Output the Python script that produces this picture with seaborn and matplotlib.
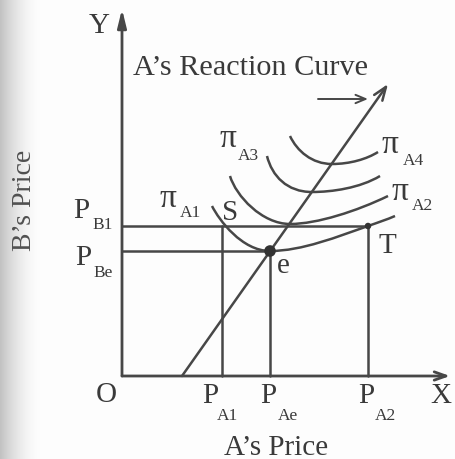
import numpy as np
import pandas as pd
import matplotlib
matplotlib.use("Agg")
import matplotlib.pyplot as plt
from matplotlib.path import Path
from matplotlib.patches import PathPatch
import seaborn as sns

# Key prices on the two axes
P_A1, P_Ae, P_A2 = 100, 148, 246
P_B1, P_Be = 150, 125

# A's reaction curve (straight line, with arrow at the top end)
reaction_x = [60, 266]
reaction_y = [0, 292]

# Iso-profit curves of firm A as cubic Bezier vertices
# (anchor, control, control, anchor, control, control, anchor ...)
pi_a1_x = [90, 97, 120, 148, 180, 216, 246, 256, 265, 273]
pi_a1_y = [170, 156, 125, 125, 125, 139.5, 150, 153.5, 156.5, 160]
pi_a2_x = [108, 114, 140, 168, 195, 235, 266]
pi_a2_y = [200, 180, 152, 152, 152, 165, 180]
pi_a3_x = [145, 150, 165, 190, 210, 238, 258]
pi_a3_y = [220, 200, 184, 184, 184, 188, 200]
pi_a4_x = [168, 175, 190, 210, 228, 245, 256]
pi_a4_y = [240, 225, 212, 212, 212, 217, 224]

INK = "#3a3a3a"
LINE = "#474747"
SERIF = ["Liberation Serif", "DejaVu Serif"]

sns.set_theme(style="white")
plt.rcParams["font.family"] = SERIF

fig = plt.figure(figsize=(4.55, 4.6), dpi=100)
ax = fig.add_axes([0, 0, 1, 1])
ax.set_xlim(-122, 333)
ax.set_ylim(-83, 377)
ax.axis("off")
fig.patch.set_facecolor("#fdfdfd")

# soft grey shading fading out along the left margin of the page
fade = (1 - np.linspace(0, 1, 200)) ** 1.8
rgba = np.zeros((1, 200, 4))
rgba[..., :3] = 0.68
rgba[..., 3] = 0.75 * fade
ax.imshow(rgba, extent=(-122, -80, -83, 377), aspect="auto",
          zorder=0, interpolation="bilinear")

# axes with arrow heads
ax.annotate("", xy=(0, 367), xytext=(0, 0),
            arrowprops=dict(arrowstyle="-|>,head_length=0.9,head_width=0.22",
                            color=LINE, lw=2.0, shrinkA=0, shrinkB=0))
ax.annotate("", xy=(328, 0), xytext=(0, 0),
            arrowprops=dict(arrowstyle="->,head_length=0.7,head_width=0.25",
                            color=LINE, lw=2.0, shrinkA=0, shrinkB=0))

# guide lines from the price levels to the points S, e, T
guides = pd.DataFrame({
    "seg": ["b1", "b1", "be", "be", "a1", "a1", "ae", "ae", "a2", "a2"],
    "x": [0, P_A2, 0, P_Ae, P_A1, P_A1, P_Ae, P_Ae, P_A2, P_A2],
    "y": [P_B1, P_B1, P_Be, P_Be, 0, P_B1, 0, P_Be, 0, P_B1],
})
sns.lineplot(data=guides, x="x", y="y", units="seg", estimator=None,
             sort=False, color=LINE, lw=1.8, ax=ax, legend=False)

# reaction curve
ax.annotate("", xy=(reaction_x[1], reaction_y[1]),
            xytext=(reaction_x[0], reaction_y[0]),
            arrowprops=dict(arrowstyle="->,head_length=0.8,head_width=0.3",
                            color=LINE, lw=1.8, shrinkA=0, shrinkB=0))

# iso-profit curves
for cx, cy in [(pi_a1_x, pi_a1_y), (pi_a2_x, pi_a2_y),
               (pi_a3_x, pi_a3_y), (pi_a4_x, pi_a4_y)]:
    verts = list(zip(cx, cy))
    codes = [Path.MOVETO] + [Path.CURVE4] * (len(verts) - 1)
    ax.add_patch(PathPatch(Path(verts, codes), facecolor="none",
                           edgecolor=LINE, lw=1.8, zorder=3))

# equilibrium and the point T
pts = pd.DataFrame({"x": [P_Ae, P_A2], "y": [P_Be, P_B1], "size": [70, 22]})
sns.scatterplot(data=pts, x="x", y="y", size="size", sizes=(22, 70),
                color="#333333", edgecolor="none", legend=False, ax=ax, zorder=5)

# small arrow showing the direction of higher profit
ax.annotate("", xy=(246, 277), xytext=(196, 277),
            arrowprops=dict(arrowstyle="->,head_length=0.6,head_width=0.25",
                            color=LINE, lw=1.4, shrinkA=0, shrinkB=0))

big = dict(fontsize=21, color=INK, family=SERIF)
small = dict(fontsize=12.5, color=INK, family=SERIF)
greek = dict(fontsize=24, color=INK, family=SERIF)

# price labels with subscripts
price_labels = [
    ((-49, 159), (-30, 148), "B1"),
    ((-47, 112), (-29, 100), "Be"),
    ((80, -26), (95, -43), "A1"),
    ((138, -26), (156, -43), "Ae"),
    ((236, -26), (253, -43), "A2"),
]
for (mx, my), (sx, sy), sub in price_labels:
    ax.text(mx, my, "P", ha="left", va="baseline", **big)
    ax.text(sx, sy, sub, ha="left", va="baseline", **small)

# iso-profit labels
pi_labels = [
    ((37, 170), (58, 160), "A1"),
    ((97, 230), (116, 217), "A3"),
    ((260, 224), (281, 212), "A4"),
    ((270, 177), (290, 167), "A2"),
]
for (mx, my), (sx, sy), sub in pi_labels:
    ax.text(mx, my, "π", ha="left", va="baseline", **greek)
    ax.text(sx, sy, sub, ha="left", va="baseline", **small)

# point and axis letters
ax.text(108, 157, "S", ha="center", va="baseline", **big)
ax.text(161.5, 104, "e", ha="center", va="baseline", **big)
ax.text(265, 124, "T", ha="center", va="baseline", **big)
ax.text(-16, -25, "O", ha="center", va="baseline", **big)
ax.text(319, -26, "X", ha="center", va="baseline", **big)
ax.text(-23, 344, "Y", ha="center", va="baseline", **big)

ax.text(11, 302, "A’s Reaction Curve", ha="left", va="baseline",
        fontsize=21.8, color=INK, family=SERIF)
ax.text(154, -78, "A’s Price", ha="center", va="baseline", **big)
ax.text(-97, 177, "B’s Price", ha="center", va="center", rotation=90,
        fontsize=20, color="#505050", family=SERIF)

fig.savefig("out.png", dpi=100, facecolor=fig.get_facecolor())
